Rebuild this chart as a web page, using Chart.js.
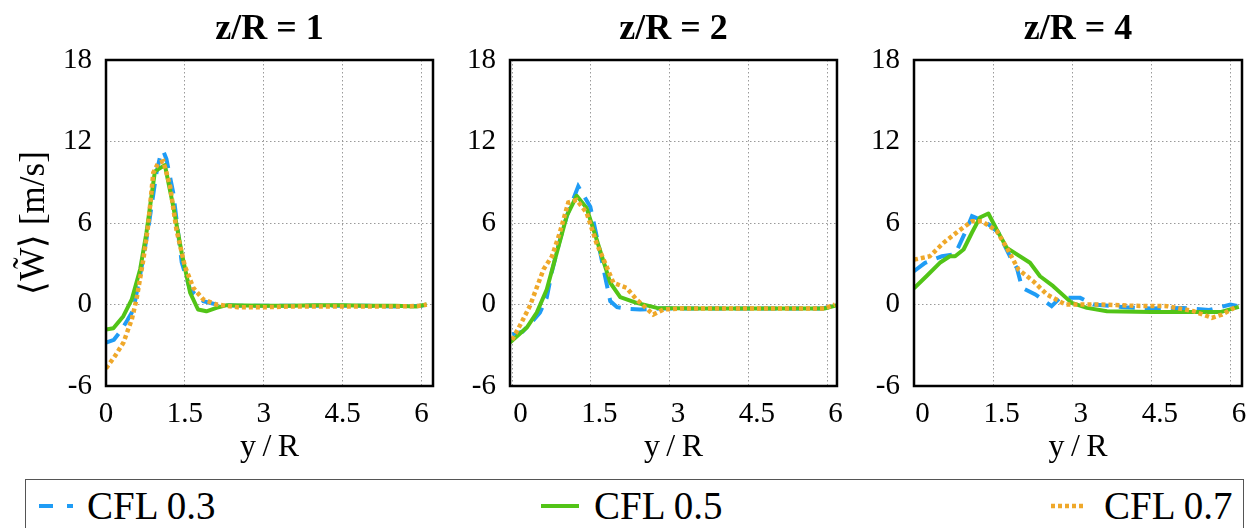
<!DOCTYPE html>
<html>
<head>
<meta charset="utf-8">
<script src="https://cdn.jsdelivr.net/npm/chart.js@4.4.1/dist/chart.umd.min.js"></script>
<style>
html,body{margin:0;padding:0;background:#fff;}
body{width:1252px;height:528px;overflow:hidden;position:relative;}
canvas.panel{position:absolute;top:0;}
#legendBox{position:absolute;left:25px;top:479px;width:1219px;height:80px;border:1px solid #555;box-sizing:border-box;background:#fff;}
.lab{position:absolute;font-family:'Liberation Serif',serif;font-size:39px;line-height:40px;color:#000;white-space:nowrap;top:486px;}
canvas.sample{position:absolute;}
</style>
</head>
<body>
<canvas id="c1" class="panel" width="440" height="470" style="left:0px"></canvas>
<canvas id="c2" class="panel" width="405" height="470" style="left:440px"></canvas>
<canvas id="c3" class="panel" width="407" height="470" style="left:845px"></canvas>
<div id="legendBox"></div>
<canvas id="s1" class="sample" width="40" height="10" style="left:37px;top:501px"></canvas>
<div class="lab" style="left:87px">CFL 0.3</div>
<canvas id="s2" class="sample" width="40" height="10" style="left:539px;top:501px"></canvas>
<div class="lab" style="left:594px">CFL 0.5</div>
<canvas id="s3" class="sample" width="40" height="10" style="left:1049px;top:501px"></canvas>
<div class="lab" style="left:1104px">CFL 0.7</div>
<script>
// ---------- data ----------
const panelTitles = ['z/R = 1', 'z/R = 2', 'z/R = 4'];
const seriesNames = ['CFL 0.3', 'CFL 0.5', 'CFL 0.7'];
const xTickValues = [0, 1.5, 3, 4.5, 6];
const yTickValues = [-6, 0, 6, 12, 18];

// z/R = 1
const p1_y_cfl03 = [0, 0.15, 0.27, 0.4, 0.52, 0.68, 0.8, 0.96, 1.03, 1.09, 1.15, 1.28, 1.44, 1.6, 1.85, 2.1, 2.5, 3.0, 3.5, 4.0, 4.5, 5.0, 5.5, 6.0, 6.1];
const p1_w_cfl03 = [-2.8, -2.6, -2.0, -1.2, -0.4, 2.8, 5.5, 9.7, 10.9, 11.3, 10.7, 8.2, 3.1, 1.1, 0.25, 0.0, -0.1, -0.1, -0.1, -0.1, -0.1, -0.1, -0.15, -0.1, 0.0];
const p1_y_cfl05 = [0, 0.14, 0.33, 0.49, 0.65, 0.77, 0.93, 1.12, 1.28, 1.44, 1.6, 1.75, 1.91, 2.1, 2.3, 3.0, 3.5, 4.0, 4.5, 5.0, 5.5, 5.9, 6.1];
const p1_w_cfl05 = [-1.85, -1.75, -0.86, 0.37, 2.6, 5.3, 9.8, 10.26, 7.2, 3.8, 0.87, -0.37, -0.5, -0.25, -0.05, -0.1, -0.1, -0.05, -0.05, -0.1, -0.1, -0.15, 0.0];
const p1_y_cfl07 = [0, 0.17, 0.33, 0.49, 0.58, 0.71, 0.8, 0.9, 0.99, 1.09, 1.22, 1.34, 1.5, 1.66, 1.85, 2.1, 2.5, 3.0, 3.5, 4.0, 4.5, 5.0, 5.5, 6.0, 6.1];
const p1_w_cfl07 = [-4.7, -3.8, -2.82, -1.1, 0.37, 3.3, 5.77, 9.7, 10.4, 10.55, 8.7, 5.5, 2.82, 1.23, 0.37, 0.0, -0.2, -0.2, -0.15, -0.15, -0.15, -0.15, -0.15, -0.1, 0.0];

// z/R = 2
const p2_y_cfl03 = [0, 0.2, 0.35, 0.53, 0.66, 0.76, 0.9, 1.05, 1.26, 1.49, 1.68, 1.77, 1.87, 2.0, 2.15, 2.44, 2.8, 3.5, 4.0, 4.5, 5.0, 5.5, 5.9, 6.15];
const p2_w_cfl03 = [-2.2, -2.0, -1.4, -0.6, 0.5, 2.45, 4.6, 6.6, 8.7, 7.2, 3.8, 2.1, 0.25, -0.2, -0.3, -0.37, -0.3, -0.3, -0.3, -0.3, -0.3, -0.3, -0.3, -0.1];
const p2_y_cfl05 = [-0.04, 0.28, 0.47, 0.66, 0.85, 1.04, 1.23, 1.42, 1.61, 1.87, 2.06, 2.37, 2.76, 3.5, 4.0, 4.5, 5.0, 5.5, 5.95, 6.19];
const p2_w_cfl05 = [-2.8, -1.7, -0.6, 1.1, 3.8, 6.5, 8.0, 7.1, 4.8, 1.6, 0.55, 0.12, -0.25, -0.3, -0.3, -0.3, -0.3, -0.3, -0.3, -0.05];
const p2_y_cfl07 = [0, 0.17, 0.34, 0.6, 0.76, 0.91, 1.07, 1.23, 1.42, 1.61, 1.8, 1.93, 2.18, 2.37, 2.69, 2.88, 3.2, 3.5, 4.0, 4.5, 5.0, 5.5, 5.95, 6.15];
const p2_w_cfl07 = [-2.6, -1.4, -0.1, 2.6, 3.55, 5.3, 7.5, 7.7, 6.75, 4.5, 2.8, 1.6, 1.23, 0.37, -0.74, -0.37, -0.3, -0.3, -0.3, -0.3, -0.3, -0.3, -0.3, 0.0];

// z/R = 4
const p3_y_cfl03 = [0, 0.21, 0.53, 0.78, 0.97, 1.1, 1.35, 1.6, 1.85, 1.95, 2.05, 2.3, 2.61, 2.77, 3.15, 3.4, 4.0, 4.5, 5.1, 5.6, 6.0, 6.13];
const p3_w_cfl03 = [2.45, 3.07, 3.55, 3.7, 5.3, 6.5, 6.1, 5.3, 3.3, 2.7, 1.23, 0.74, -0.12, 0.49, 0.49, 0.0, -0.2, -0.3, -0.25, -0.4, 0.0, -0.1];
const p3_y_cfl05 = [0, 0.24, 0.49, 0.68, 0.78, 0.94, 1.1, 1.25, 1.41, 1.57, 1.76, 2.2, 2.39, 2.64, 2.99, 3.28, 3.66, 4.5, 5.43, 5.81, 6.16];
const p3_w_cfl05 = [1.2, 2.1, 3.07, 3.55, 3.55, 4.05, 5.3, 6.4, 6.7, 5.5, 4.17, 3.07, 2.08, 1.35, 0.12, -0.25, -0.49, -0.55, -0.56, -0.56, -0.17];
const p3_y_cfl07 = [0, 0.3, 0.56, 0.84, 1.1, 1.29, 1.57, 1.76, 1.98, 2.26, 2.52, 2.87, 3.53, 4.2, 4.8, 5.3, 5.65, 5.84, 6.13];
const p3_w_cfl07 = [3.3, 3.55, 4.54, 5.4, 6.13, 6.13, 5.4, 4.17, 2.58, 1.72, 0.74, 0.0, 0.0, -0.1, -0.12, -0.49, -0.98, -0.74, -0.12];

// ---------- style ----------
const colors = ['#1F9CF5', '#52C417', '#EFA82A'];
const widths = [4, 4, 4.5];
const dashes = [[16, 10], [], [4, 3]];
const serifFont = "'Liberation Serif', serif";

const framePlugin = {
  id: 'frame',
  afterDatasetsDraw(chart) {
    const {ctx, chartArea: a} = chart;
    ctx.save();
    ctx.strokeStyle = '#000';
    ctx.lineWidth = 2.5;
    ctx.strokeRect(a.left, a.top, a.right - a.left, a.bottom - a.top);
    ctx.restore();
  }
};

function makePanel(id, title, xs, ws, cfg) {
  const datasets = xs.map((xa, i) => ({
    label: seriesNames[i],
    data: xa.map((v, k) => ({x: v, y: ws[i][k]})),
    borderColor: colors[i],
    borderWidth: widths[i],
    borderDash: dashes[i],
    borderCapStyle: 'butt',
    borderJoinStyle: i === 1 ? 'round' : 'miter',
    pointRadius: 0,
    tension: 0,
    fill: false,
    order: 3 - i
  }));
  return new Chart(document.getElementById(id), {
    type: 'line',
    data: {datasets},
    options: {
      responsive: false,
      animation: false,
      devicePixelRatio: 1,
      layout: {padding: {left: 0, right: cfg.padRight, top: 0, bottom: 0}},
      plugins: {
        legend: {display: false},
        tooltip: {enabled: false},
        title: {
          display: true, text: title, fullSize: false, color: '#000',
          font: {family: serifFont, size: 36, weight: 'bold', lineHeight: 1.2},
          padding: {top: 8.4, bottom: 8.4}
        }
      },
      scales: {
        x: {
          type: 'linear', min: cfg.xMin, max: cfg.xMax,
          afterBuildTicks: s => { s.ticks = xTickValues.map(v => ({value: v})); },
          afterFit: s => { s.height = 84; },
          ticks: {
            color: '#000', font: {family: serifFont, size: 29, lineHeight: 1.2},
            padding: 10.5, labelOffset: cfg.labelOffset, autoSkip: false, maxRotation: 0,
            callback: v => String(v)
          },
          grid: {color: '#9a9a9a', lineWidth: 1, drawTicks: false},
          border: {display: false, dash: [1.5, 2.5]},
          title: {
            display: true, text: 'y\u2009/\u2009R', color: '#000',
            font: {family: serifFont, size: 32, lineHeight: 1.2},
            padding: {top: 0, bottom: 2.8}
          }
        },
        y: {
          type: 'linear', min: -6, max: 18,
          afterBuildTicks: s => { s.ticks = yTickValues.map(v => ({value: v})); },
          afterFit: s => { s.width = cfg.yWidth; },
          ticks: {
            color: '#000', font: {family: serifFont, size: 29, lineHeight: 1.2},
            padding: 14, autoSkip: false, callback: v => String(v)
          },
          grid: {color: '#9a9a9a', lineWidth: 1, drawTicks: false},
          border: {display: false, dash: [1.5, 2.5]},
          title: {
            display: cfg.yTitle, text: '\u27E8W\u0303\u27E9 [m/s]', color: '#000',
            font: {family: serifFont, size: 35, lineHeight: 1.2},
            padding: {top: 14, bottom: 0}
          }
        }
      }
    },
    plugins: [framePlugin]
  });
}

makePanel('c1', panelTitles[0],
  [p1_y_cfl03, p1_y_cfl05, p1_y_cfl07], [p1_w_cfl03, p1_w_cfl05, p1_w_cfl07],
  {xMin: 0, xMax: 6.22, yWidth: 106, padRight: 7, labelOffset: 0, yTitle: true});
makePanel('c2', panelTitles[1],
  [p2_y_cfl03, p2_y_cfl05, p2_y_cfl07], [p2_w_cfl03, p2_w_cfl05, p2_w_cfl07],
  {xMin: -0.04, xMax: 6.19, yWidth: 70, padRight: 8, labelOffset: 8.5, yTitle: false});
makePanel('c3', panelTitles[2],
  [p3_y_cfl03, p3_y_cfl05, p3_y_cfl07], [p3_w_cfl03, p3_w_cfl05, p3_w_cfl07],
  {xMin: 0, xMax: 6.22, yWidth: 69, padRight: 10, labelOffset: 8.5, yTitle: false});

// legend samples
function drawSample(id, i, len) {
  const ctx = document.getElementById(id).getContext('2d');
  ctx.strokeStyle = colors[i];
  ctx.lineWidth = widths[i];
  ctx.lineCap = 'butt';
  ctx.setLineDash(i === 0 ? [14, 14] : dashes[i]);
  ctx.beginPath();
  ctx.moveTo(2, 5);
  ctx.lineTo(2 + len, 5);
  ctx.stroke();
}
drawSample('s1', 0, 34);
drawSample('s2', 1, 38);
drawSample('s3', 2, 35);
</script>
</body>
</html>
